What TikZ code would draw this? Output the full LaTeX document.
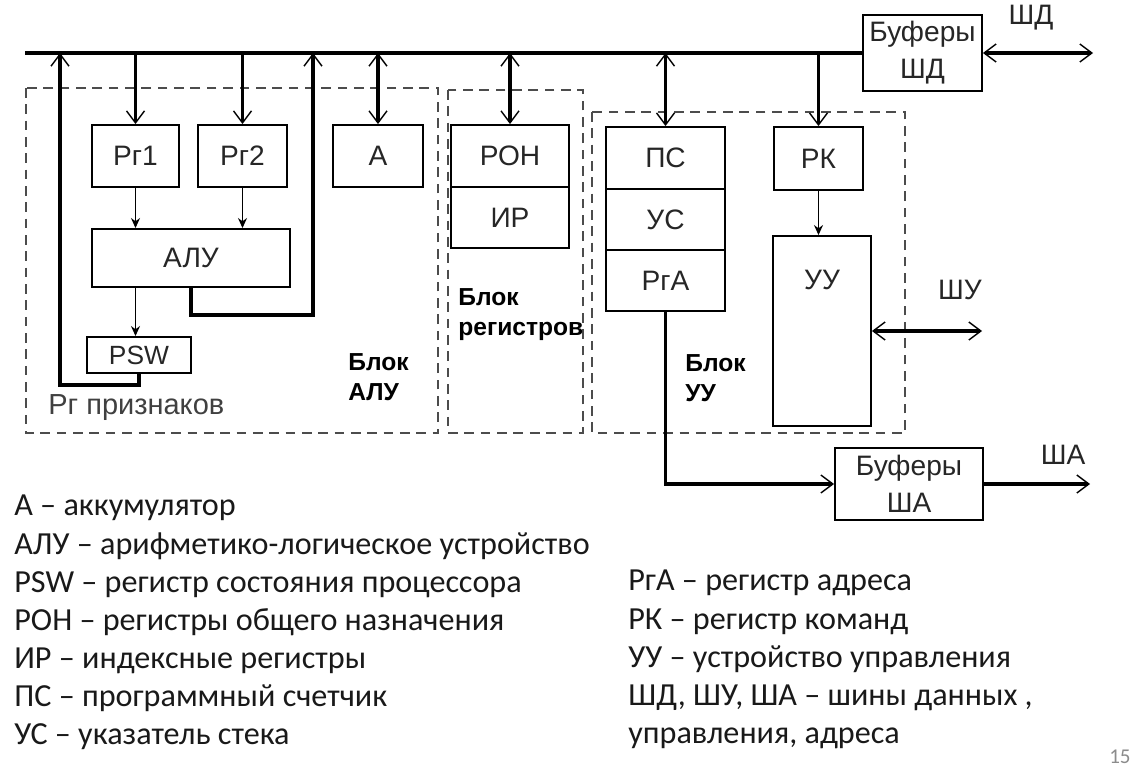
\documentclass[tikz,border=0pt]{standalone}
\usepackage{fontspec}
\setmainfont{Liberation Sans}
\newfontfamily\legendfont{Carlito}
\usepackage{tikz}
\usetikzlibrary{arrows.meta,positioning}
\tikzset{
  blk/.style={ draw, line width=1.1pt, inner sep=0pt, text=black!85, font=\fontsize{16}{21}\selectfont, align=center }
}
\tikzset{
  grp/.style={ draw=black!70, line width=0.9pt, dash pattern=on 5.5pt off 3.8pt }
}
\tikzset{
  busline/.style={ line width=2.8pt }
}
\tikzset{
  wire/.style={ line width=2pt }
}
\tikzset{
  thinwire/.style={ line width=0.8pt, -{Stealth[length=2mm,width=1.8mm]} }
}
\tikzset{
  blklbl/.style={ font=\bfseries\fontsize{14}{17}\selectfont, align=left, anchor=west, inner sep=0pt }
}
\tikzset{
  buslbl/.style={ font=\fontsize{16}{18}\selectfont, text=black!85 }
}
\tikzset{
  legend/.style={ font=\legendfont\fontsize{18.3}{21.7}\selectfont, align=left, anchor=north west, inner sep=0pt, text=black!90 }
}
\tikzset{>={Straight Barb[length=2.4mm,width=3.6mm,line width=0.8pt]}}

\begin{document}
\begin{tikzpicture}[x=0.02cm, y=-0.02cm]
      \useasboundingbox (0,0) rectangle (1132,774);

      \draw[grp] (26,88) rectangle (438,433);
      \draw[grp] (448,90) rectangle (583,433);
      \draw[grp] (592,112) rectangle (905,433);

      \node[blk, minimum width=1.74cm, minimum height=1.24cm] (rg1) at (135.5,156) {Рг1};
      \node[blk, minimum width=1.78cm, minimum height=1.24cm] (rg2) at (242.5,156) {Рг2};
      \node[blk, minimum width=1.8cm, minimum height=1.24cm] (acc) at (378,156) {А};
      \node[blk, minimum width=3.96cm, minimum height=1.16cm] (alu) at (191,258) {АЛУ};
      \node[blk, minimum width=2.08cm, minimum height=0.72cm, font=\fontsize{15}{18}\selectfont] (psw) at (139,355) {PSW};

      \node[blk, minimum width=2.36cm, minimum height=1.24cm] (ron) at (510,156) {РОН};
      \node[blk, minimum width=2.36cm, minimum height=1.22cm] (ir) at (510,217.5) {ИР};

      \node[blk, minimum width=2.38cm, minimum height=1.24cm] (pc) at (665.5,158) {ПС};
      \node[blk, minimum width=2.38cm, minimum height=1.22cm] (sp) at (665.5,219.5) {УС};
      \node[blk, minimum width=2.38cm, minimum height=1.22cm] (rga) at (665.5,280.5) {РгА};
      \node[blk, minimum width=1.78cm, minimum height=1.26cm] (rk) at (818.5,158.5) {РК};
      \node[blk, minimum width=1.96cm, minimum height=3.8cm,
            label={[font=\fontsize{16}{18}\selectfont, text=black!85, inner sep=0pt, anchor=north, yshift=-0.7cm]north:УУ}] (uu) at (822,331) {};

      \node[blk, minimum width=2.38cm, minimum height=1.52cm] (bufd) at (922.5,53) {Буферы\\ШД};
      \node[blk, minimum width=2.96cm, minimum height=1.44cm] (bufa) at (909,484) {Буферы\\ША};

      \coordinate (busL) at (25,53);
      \coordinate (fb) at (60,385);
      \coordinate (aluout) at (313,315);
      \coordinate (shd) at (1093,53);
      \coordinate (shu) at (982,331);
      \coordinate (sha) at (1090,484);

      \draw[busline] (busL) -- (bufd.west);
      \draw[wire, ->] (rg1.north |- busL) -- (rg1.north);
      \draw[wire, ->] (rg2.north |- busL) -- (rg2.north);
      \draw[wire, <->] (acc.north |- busL) -- (acc.north);
      \draw[wire, <->] (ron.north |- busL) -- (ron.north);
      \draw[wire, <->] (pc.north |- busL) -- (pc.north);
      \draw[wire, ->] (rk.north |- busL) -- (rk.north);
      \draw[wire, ->] (psw.south) |- (fb) -- (fb |- busL);
      \draw[wire, ->] (alu.south) |- (aluout) -- (aluout |- busL);

      \draw[thinwire] (rg1.south) -- (rg1.south |- alu.north);
      \draw[thinwire] (rg2.south) -- (rg2.south |- alu.north);
      \draw[thinwire] (rg1.south |- alu.south) -- (rg1.south |- psw.north);
      \draw[thinwire] (rk.south) -- (rk.south |- uu.north);

      \draw[wire, <->] (bufd.east) -- (shd);
      \draw[wire, <->] (uu.east) -- (shu);
      \draw[wire, ->] (rga.south) |- (bufa.west);
      \draw[wire, ->] (bufa.east) -- (sha);

      \node[buslbl] (shdlbl) at (1031,18) {ШД};
      \node[buslbl] (shulbl) at (960,290) {ШУ};
      \node[buslbl] (shalbl) at (1063,455) {ША};

      \node[blklbl] (alulbl) at (348,377) {Блок\\АЛУ};
      \node[blklbl] (reglbl) at (458,315) {Блок\\регистров};
      \node[blklbl] (uulbl) at (685,378) {Блок\\УУ};
      \node[buslbl, anchor=west, inner sep=0pt, text=black!75, font=\fontsize{16.5}{18}\selectfont] (flaglbl) at (48,408) {Рг признаков};

      \node[legend] (legL) at (14,495) {А – аккумулятор\\
        АЛУ – арифметико-логическое устройство\\
        PSW – регистр состояния процессора\\
        РОН – регистры общего назначения\\
        ИР – индексные регистры\\
        ПС – программный счетчик\\
        УС – указатель стека};
      \node[legend] (legR) at (628,570) {РгА – регистр адреса\\
        РК – регистр команд\\
        УУ – устройство управления\\
        ШД, ШУ, ША – шины данных ,\\
        управления, адреса};
      \node[anchor=east, inner sep=0pt, text=black!45, font=\legendfont\fontsize{12}{14}\selectfont] (pgno) at (1131,757) {15};
    \end{tikzpicture}
\end{document}
